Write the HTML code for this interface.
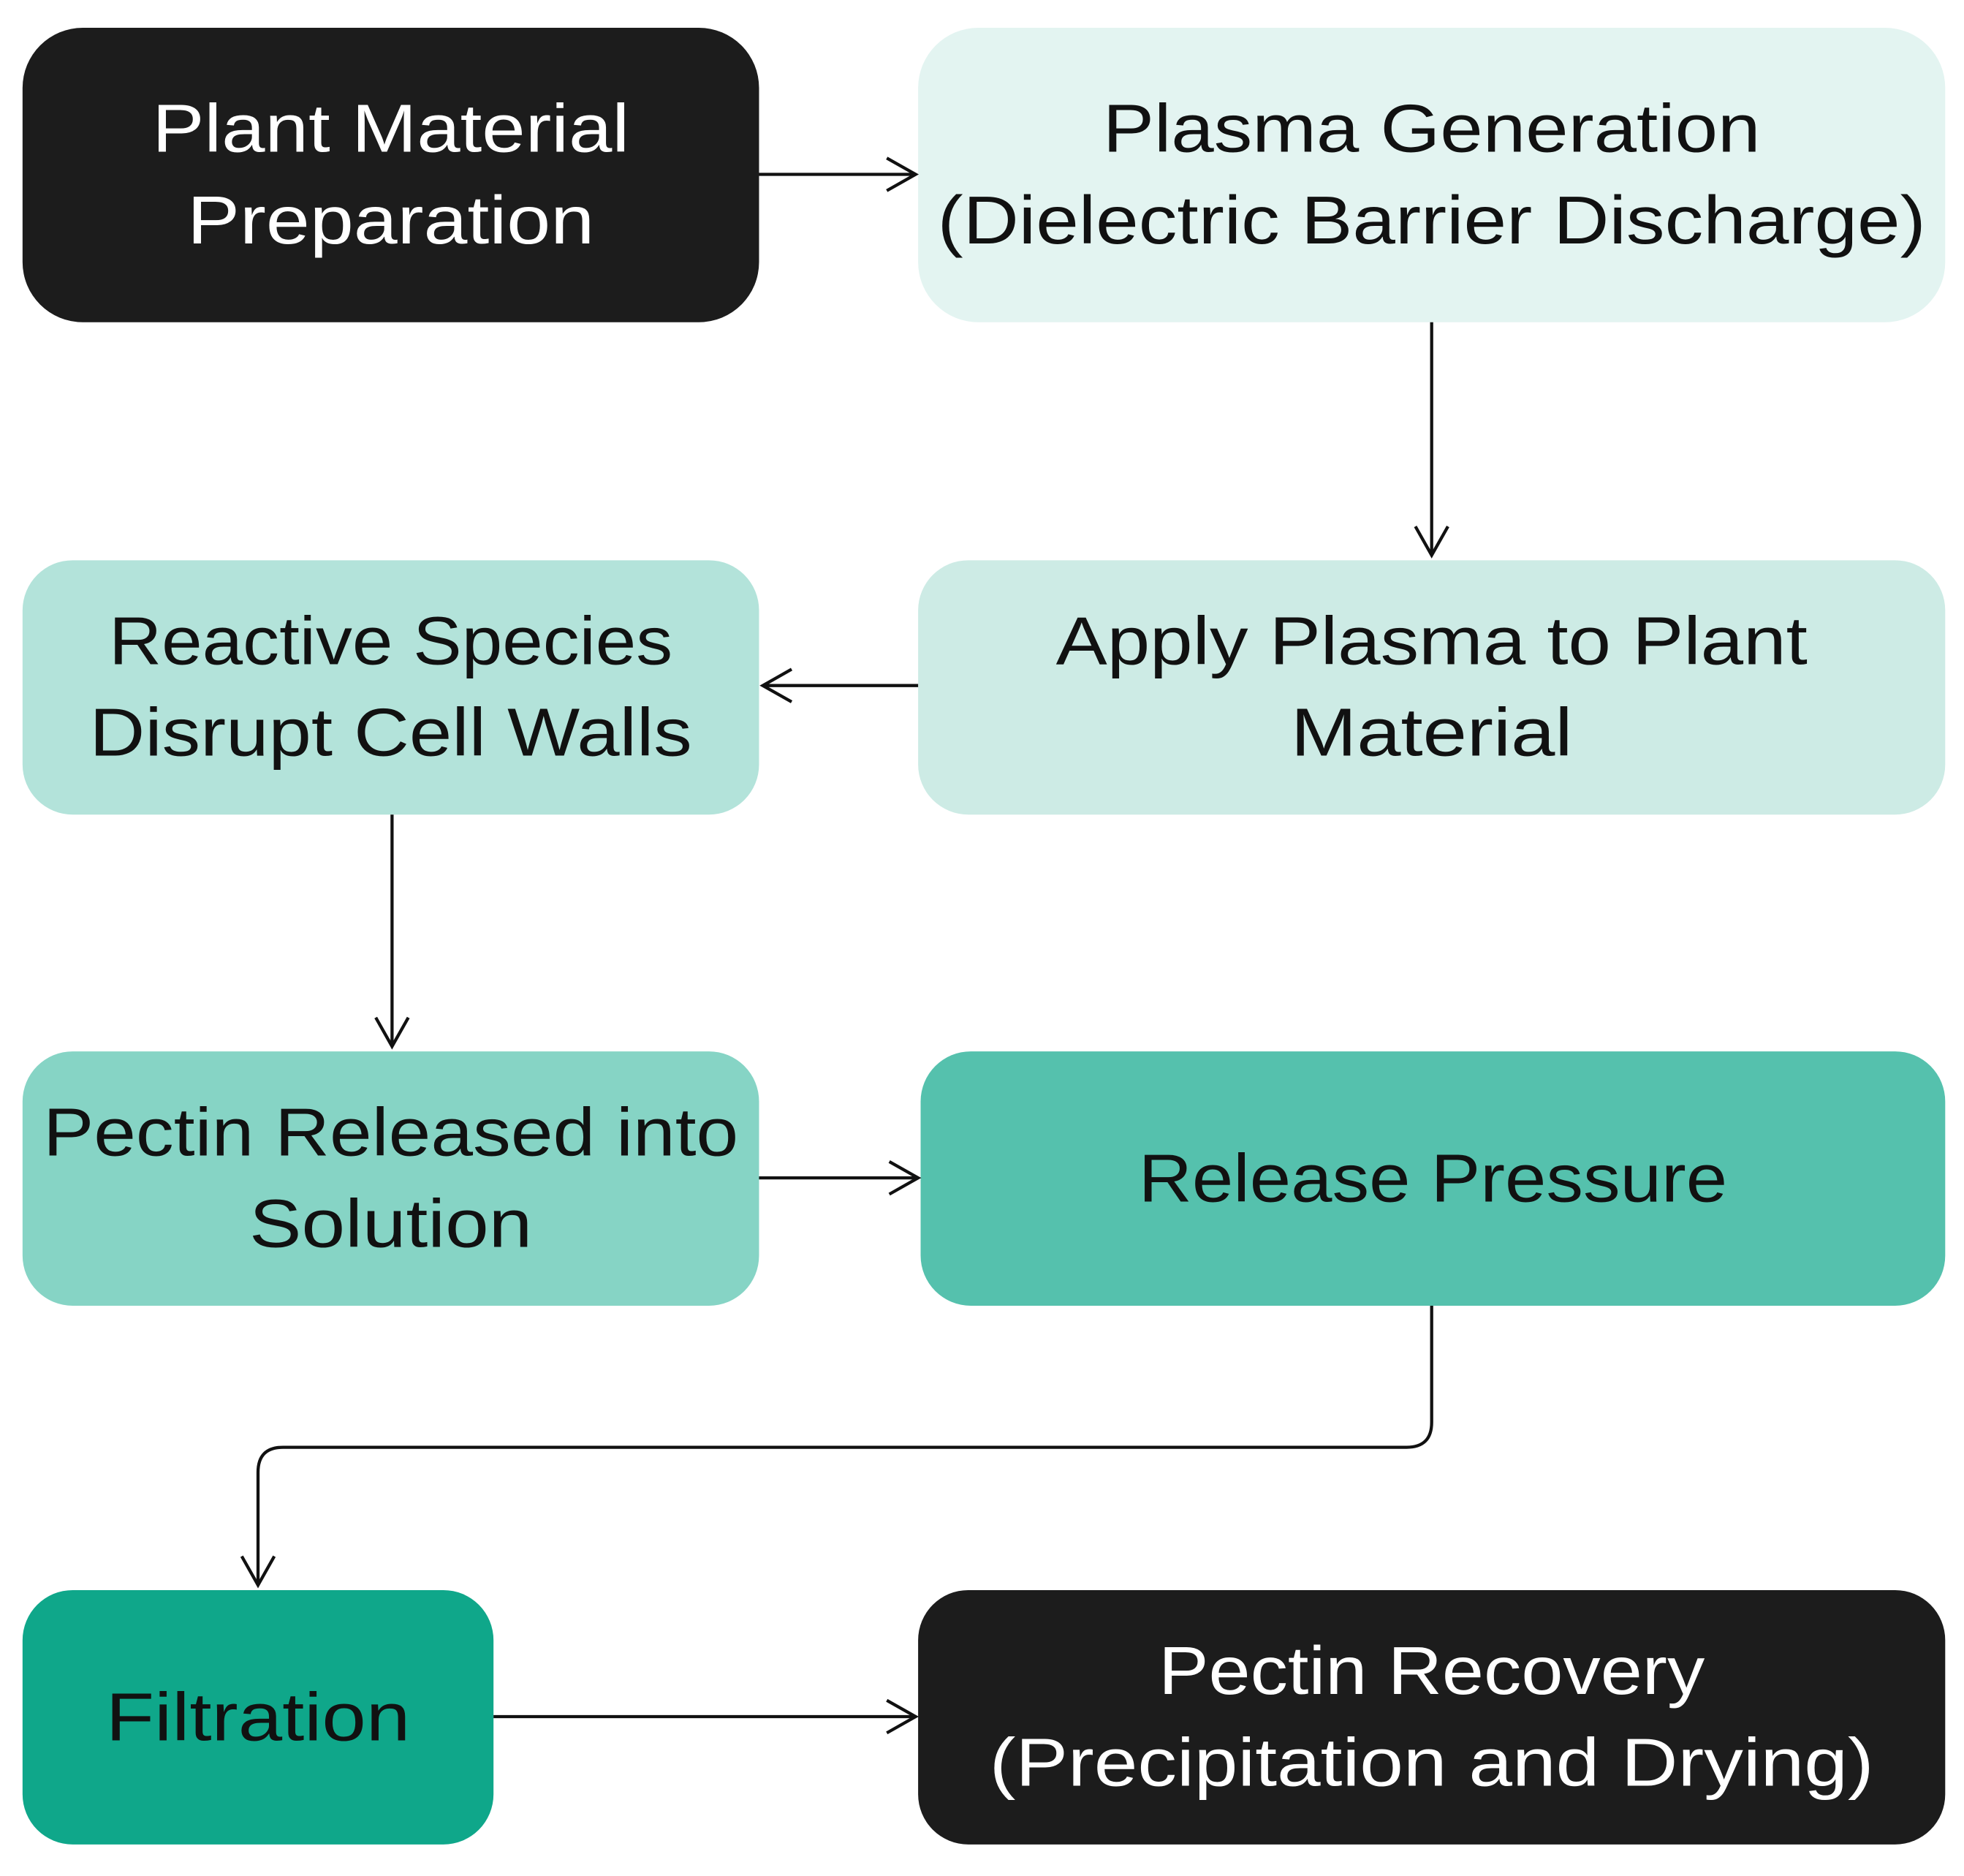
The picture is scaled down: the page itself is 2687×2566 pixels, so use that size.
<!DOCTYPE html>
<html><head><meta charset="utf-8">
<style>
html,body{margin:0;padding:0;background:#fff;}
svg{display:block;}
text{font-family:"Liberation Sans",sans-serif;font-size:54px;text-anchor:middle;}
</style></head>
<body>
<svg width="2687" height="2566" viewBox="0 0 1568 1497" xmlns="http://www.w3.org/2000/svg">
<defs>
<marker id="a" markerWidth="30" markerHeight="30" refX="25" refY="15" orient="auto" markerUnits="userSpaceOnUse">
<path d="M2,2 L25,15 L2,28" fill="none" stroke="#111" stroke-width="2.5"/>
</marker>
</defs>
<rect width="1568" height="1497" fill="#fff"/>
<g>
<rect x="18" y="22" width="588" height="235" rx="48" fill="#1c1c1c"/>
<rect x="733" y="22" width="820" height="235" rx="48" fill="#e3f4f1"/>
<rect x="18" y="447" width="588" height="203" rx="40" fill="#b3e3da"/>
<rect x="733" y="447" width="820" height="203" rx="40" fill="#cdebe5"/>
<rect x="18" y="839" width="588" height="203" rx="40" fill="#86d4c5"/>
<rect x="735" y="839" width="818" height="203" rx="40" fill="#55c1ad"/>
<rect x="18" y="1269" width="376" height="203" rx="40" fill="#0fa78a"/>
<rect x="733" y="1269" width="820" height="203" rx="40" fill="#1c1c1c"/>
</g>
<g fill="none" stroke="#111" stroke-width="2.5">
<line x1="606" y1="139" x2="731" y2="139" marker-end="url(#a)"/>
<line x1="1143" y1="257" x2="1143" y2="443" marker-end="url(#a)"/>
<line x1="733" y1="547" x2="609" y2="547" marker-end="url(#a)"/>
<line x1="313" y1="650" x2="313" y2="835" marker-end="url(#a)"/>
<line x1="606" y1="940" x2="733" y2="940" marker-end="url(#a)"/>
<path d="M1143,1042 V1135 Q1143,1155 1123,1155 H226 Q206,1155 206,1175 V1265" marker-end="url(#a)"/>
<line x1="394" y1="1370" x2="731" y2="1370" marker-end="url(#a)"/>
</g>
<g lengthAdjust="spacingAndGlyphs">
<text x="312" y="121" fill="#fff" textLength="381" lengthAdjust="spacingAndGlyphs">Plant Material</text>
<text x="312" y="194" fill="#fff" textLength="325" lengthAdjust="spacingAndGlyphs">Preparation</text>
<text x="1143" y="121" fill="#111" textLength="525" lengthAdjust="spacingAndGlyphs">Plasma Generation</text>
<text x="1143" y="194" fill="#111" textLength="789" lengthAdjust="spacingAndGlyphs">(Dielectric Barrier Discharge)</text>
<text x="312" y="530" fill="#111" textLength="450" lengthAdjust="spacingAndGlyphs">Reactive Species</text>
<text x="312" y="603" fill="#111" textLength="481" lengthAdjust="spacingAndGlyphs">Disrupt Cell Walls</text>
<text x="1143" y="530" fill="#111" textLength="600" lengthAdjust="spacingAndGlyphs">Apply Plasma to Plant</text>
<text x="1143" y="603" fill="#111" textLength="225" lengthAdjust="spacingAndGlyphs">Material</text>
<text x="312" y="922" fill="#111" textLength="555" lengthAdjust="spacingAndGlyphs">Pectin Released into</text>
<text x="312" y="995" fill="#111" textLength="226" lengthAdjust="spacingAndGlyphs">Solution</text>
<text x="1144" y="959" fill="#111" textLength="470" lengthAdjust="spacingAndGlyphs">Release Pressure</text>
<text x="206" y="1389" fill="#111" textLength="243" lengthAdjust="spacingAndGlyphs">Filtration</text>
<text x="1143" y="1352" fill="#fff" textLength="436" lengthAdjust="spacingAndGlyphs">Pectin Recovery</text>
<text x="1143" y="1425" fill="#fff" textLength="706" lengthAdjust="spacingAndGlyphs">(Precipitation and Drying)</text>
</g>
</svg>
</body></html>
